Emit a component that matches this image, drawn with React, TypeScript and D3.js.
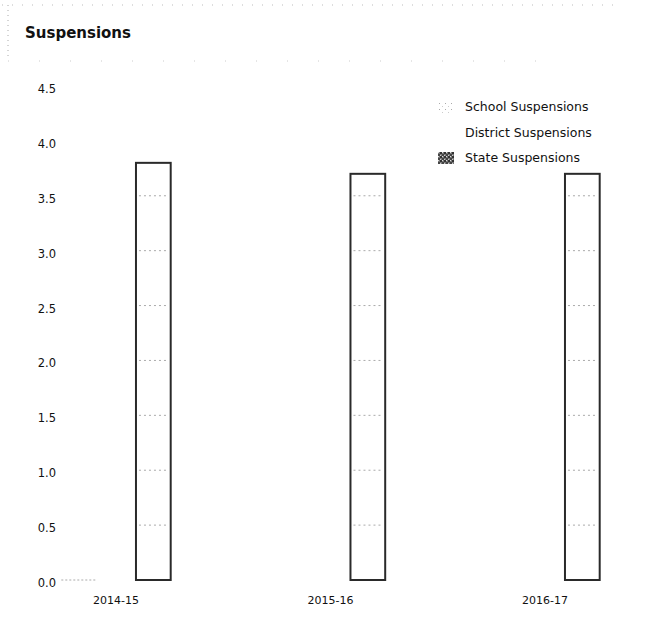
import React from "react";
import * as d3 from "d3";

const categories = ["2014-15", "2015-16", "2016-17"];
const seriesNames = ["School Suspensions", "District Suspensions", "State Suspensions"];
const schoolValues: (number | null)[] = [0, null, null];
const districtValues: (number | null)[] = [null, null, null];
const stateValues: (number | null)[] = [3.8, 3.7, 3.7];
const yTicks = [0, 0.5, 1, 1.5, 2, 2.5, 3, 3.5, 4, 4.5];

const W = 653;
const H = 635;
const FONT = "'DejaVu Sans', Verdana, sans-serif";

export default function App() {
  const series = [schoolValues, districtValues, stateValues];
  const y = d3.scaleLinear().domain([0, 4.5]).range([580, 86]);
  const x0 = d3
    .scaleBand<string>()
    .domain(categories)
    .range([42, 619])
    .paddingInner(0.49)
    .paddingOuter(0.09);
  const x1 = d3
    .scaleBand<string>()
    .domain(seriesNames)
    .range([0, x0.bandwidth()])
    .paddingInner(0.07);

  const fills = ["url(#schoolPat)", "#ffffff", "#ffffff"];

  return (
    <svg
      width={W}
      height={H}
      style={{ position: "absolute", left: 0, top: 0, background: "#fff" }}
      fontFamily={FONT}
    >
      <defs>
        <pattern id="schoolPat" width="6" height="6" patternUnits="userSpaceOnUse">
          <rect width="6" height="6" fill="#fff" />
          <rect x="1" y="1" width="1" height="1" fill="#aaa" />
          <rect x="4" y="4" width="1" height="1" fill="#ccc" />
        </pattern>
        <pattern id="statePat" width="4" height="4" patternUnits="userSpaceOnUse">
          <rect width="4" height="4" fill="#777" />
          <rect x="0" y="0" width="2" height="2" fill="#333" />
          <rect x="2" y="2" width="2" height="2" fill="#444" />
          <rect x="2" y="0" width="1" height="1" fill="#ddd" />
          <rect x="0" y="3" width="1" height="1" fill="#ccc" />
        </pattern>
      </defs>

      {/* faint frame from scan */}
      <line x1={2} x2={620} y1={5} y2={5} stroke="#bbb" strokeWidth={1} strokeDasharray="1,9" />
      <line x1={8} x2={8} y1={5} y2={60} stroke="#aaa" strokeWidth={1} strokeDasharray="1,4" />
      <line x1={8} x2={560} y1={61} y2={61} stroke="#ccc" strokeWidth={1} strokeDasharray="1,30" />

      <text x={25} y={38} fontSize={15} fontWeight="bold" fill="#111">
        Suspensions
      </text>

      {/* y tick labels */}
      {yTicks.map((t) => (
        <text key={t} x={56} y={y(t) + 7} fontSize={11.5} textAnchor="end" fill="#111">
          {d3.format(".1f")(t)}
        </text>
      ))}

      {/* bars */}
      {categories.map((c, ci) => (
        <g key={c} transform={`translate(${x0(c)},0)`}>
          {series.map((vals, si) => {
            const v = vals[ci];
            if (v === null) return null;
            const bx = x1(seriesNames[si])!;
            const bw = x1.bandwidth();
            const top = y(v);
            const h = y(0) - top;
            return (
              <g key={si}>
                {h > 0 ? (
                  <rect
                    x={bx}
                    y={top}
                    width={bw}
                    height={h}
                    fill={fills[si]}
                    stroke="#2a2a2a"
                    strokeWidth={2}
                  />
                ) : (
                  <line
                    x1={bx}
                    x2={bx + bw}
                    y1={y(0)}
                    y2={y(0)}
                    stroke="#aaa"
                    strokeWidth={1}
                    strokeDasharray="2,2"
                  />
                )}
                {yTicks
                  .filter((t) => t > 0 && t < v)
                  .map((t) => (
                    <line
                      key={t}
                      x1={bx + 3}
                      x2={bx + bw - 3}
                      y1={y(t)}
                      y2={y(t)}
                      stroke="#aaa"
                      strokeWidth={1}
                      strokeDasharray="2,3"
                    />
                  ))}
              </g>
            );
          })}
        </g>
      ))}

      {/* x labels */}
      {categories.map((c) => (
        <text
          key={c}
          x={x0(c)! + x0.bandwidth() / 2}
          y={604}
          fontSize={11}
          textAnchor="middle"
          fill="#111"
        >
          {c}
        </text>
      ))}

      {/* legend */}
      {seriesNames.map((s, i) => {
        const ly = 107 + i * 25.5;
        const swFill = i === 0 ? "url(#schoolPat)" : i === 2 ? "url(#statePat)" : "#fff";
        return (
          <g key={s}>
            <rect x={438} y={ly - 6} width={16} height={12} fill={swFill} />
            <text x={465} y={ly + 4} fontSize={12.5} fill="#111">
              {s}
            </text>
          </g>
        );
      })}
    </svg>
  );
}
